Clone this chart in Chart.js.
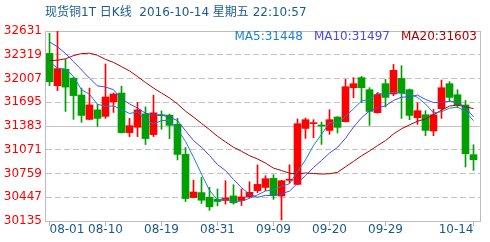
<!DOCTYPE html>
<html lang="zh-CN">
<head>
<meta charset="utf-8">
<script src="https://cdn.jsdelivr.net/npm/chart.js@4.4.1/dist/chart.umd.min.js"></script>
<style>
  body { margin: 0; background: #fff; }
  #box { width: 490px; height: 242px; }
</style>
</head>
<body>
<div id="box"><canvas id="kline" width="490" height="242"></canvas></div>
<script>
// 交易日
const dates = [
  '08-01','08-02','08-03','08-04','08-05','08-08','08-09','08-10','08-11','08-12',
  '08-15','08-16','08-17','08-18','08-19','08-22','08-23','08-24','08-25','08-26',
  '08-30','08-31','09-01','09-02','09-05','09-06','09-07','09-08','09-09','09-12',
  '09-13','09-14','09-15','09-16','09-19','09-20','09-21','09-22','09-23','09-26',
  '09-27','09-28','09-29','09-30','10-03','10-04','10-05','10-06','10-07','10-10',
  '10-11','10-12','10-13','10-14'
];
const opens = [
  32336, 31912, 32128, 32011, 31790, 31470, 31595, 31509, 31699, 31816,
  31296, 31366, 31543, 31270, 31525, 31526, 31405, 31010, 30443, 30508,
  30447, 30421, 30404, 30464, 30404, 30451, 30534, 30576, 30695, 30463,
  30670, 30616, 31351, 31414, 31390, 31325, 31501, 31440, 31886, 32018,
  31860, 31558, 31939, 31803, 32008, 31860, 31492, 31531, 31317, 31610,
  31939, 31794, 31659, 31006
];
const highs = [
  32601, 32627, 32258, 32024, 31881, 31881, 31669, 32198, 31816, 31907,
  31483, 31691, 31634, 31790, 31582, 31539, 31483, 31101, 30672, 30707,
  30577, 30555, 30664, 30612, 30555, 30651, 30872, 30730, 30743, 30670,
  30874, 31475, 31488, 31466, 31436, 31597, 31505, 31995, 32018, 32035,
  31886, 31821, 31995, 32192, 32175, 31870, 31689, 31584, 31601, 31987,
  31965, 31860, 31719, 31137
];
const lows = [
  31912, 31847, 31574, 31470, 31431, 31465, 31379, 31483, 31561, 31290,
  31244, 31244, 31140, 31244, 31340, 31218, 30937, 30391, 30440, 30365,
  30274, 30334, 30356, 30356, 30339, 30438, 30508, 30533, 30419, 30148,
  30634, 30610, 31220, 31229, 31141, 31273, 31291, 31435, 31755, 31689,
  31391, 31550, 31633, 31781, 31483, 31466, 31404, 31256, 31256, 31483,
  31698, 31623, 30844, 30800
];
const closes = [
  31964, 32137, 31894, 31782, 31522, 31660, 31483, 31764, 31803, 31296,
  31387, 31595, 31218, 31556, 31518, 31392, 31010, 30430, 30516, 30408,
  30321, 30391, 30438, 30373, 30451, 30512, 30616, 30691, 30471, 30664,
  30676, 31413, 31466, 31420, 31383, 31466, 31365, 31899, 31939, 31886,
  31575, 31798, 31759, 32114, 31817, 31522, 31584, 31325, 31531, 31886,
  31759, 31659, 31019, 30940
];
const ma5 = [
  32228, 32141, 32133, 32033, 31860, 31799, 31668, 31642, 31646, 31601,
  31547, 31569, 31460, 31410, 31455, 31456, 31339, 31181, 30973, 30751,
  30537, 30413, 30415, 30386, 30395, 30433, 30478, 30529, 30548, 30591,
  30624, 30783, 30938, 31128, 31272, 31430, 31420, 31507, 31610, 31711,
  31733, 31819, 31791, 31826, 31813, 31802, 31759, 31672, 31556, 31570,
  31617, 31632, 31571, 31453
];
const ma10 = [
  32488, 32423, 32336, 32228, 32120, 32011, 31910, 31895, 31860, 31740,
  31673, 31619, 31551, 31528, 31528, 31501, 31454, 31321, 31192, 31103,
  30996, 30876, 30798, 30680, 30573, 30485, 30446, 30472, 30467, 30493,
  30528, 30631, 30733, 30838, 30931, 31027, 31102, 31222, 31369, 31491,
  31581, 31620, 31649, 31718, 31762, 31767, 31789, 31732, 31691, 31691,
  31710, 31696, 31622, 31504
];
const ma20 = [
  32241, 32248, 32266, 32308, 32334, 32340, 32312, 32258, 32219, 32163,
  32107, 32033, 31955, 31881, 31816, 31751, 31673, 31578, 31500, 31417,
  31335, 31247, 31175, 31104, 31051, 30993, 30950, 30896, 30830, 30798,
  30762, 30753, 30766, 30759, 30752, 30756, 30774, 30847, 30918, 30992,
  31055, 31125, 31191, 31278, 31347, 31397, 31445, 31477, 31530, 31591,
  31645, 31658, 31635, 31611
];
const yTicks = [30135, 30447, 30759, 31071, 31383, 31695, 32007, 32319, 32631];
const xTickDates = ['08-01', '08-10', '08-19', '08-31', '09-09', '09-20', '09-29', '10-14'];
const titleText = '现货铜1T 日K线  2016-10-14 星期五 22:10:57';
const maText = ['MA5:31448', 'MA10:31497', 'MA20:31603'];

const FONT = '"DejaVu Sans", "Noto Sans CJK SC", sans-serif';
const UP = '#ff0000', DOWN = '#00a000';
const maColors = ['#1a82d2', '#4848f0', '#b00000'];

const candleColors = opens.map((o, i) => closes[i] >= o ? UP : DOWN);
const xTickIdx = xTickDates.map(d => dates.indexOf(d));

// 边框、标题和均线文字
const decor = {
  id: 'decor',
  beforeDatasetsDraw(chart) {
    const { ctx, chartArea: a } = chart;
    ctx.save();
    ctx.strokeStyle = '#bcbcbc';
    ctx.lineWidth = 1;
    ctx.strokeRect(a.left - 0.5, a.top + 0.5, a.right - a.left + 1, a.bottom - a.top);
    ctx.restore();
  },
  afterDraw(chart) {
    const { ctx, chartArea: a } = chart;
    ctx.save();
    ctx.font = '12px ' + FONT;
    ctx.textBaseline = 'middle';
    ctx.fillStyle = '#1a5a8c';
    ctx.textAlign = 'left';
    ctx.fillText(titleText, a.left - 1, 13);

    ctx.textAlign = 'right';
    let x = a.right - 3;
    for (let i = maText.length - 1; i >= 0; i--) {
      ctx.fillStyle = maColors[i];
      ctx.fillText(maText[i], x, 37);
      x -= ctx.measureText(maText[i]).width + 11;
    }
    ctx.restore();
  }
};

const lineSet = (label, arr, color) => ({
  type: 'line',
  label: label,
  data: arr.map((v, i) => ({ x: i, y: v })),
  borderColor: color,
  borderWidth: 1,
  pointRadius: 0,
  tension: 0,
  order: 0
});

new Chart(document.getElementById('kline'), {
  type: 'bar',
  data: {
    datasets: [
      lineSet('MA5', ma5, maColors[0]),
      lineSet('MA10', ma10, maColors[1]),
      lineSet('MA20', ma20, maColors[2]),
      {
        label: 'body',
        data: opens.map((o, i) => ({ x: i, y: [o, closes[i]] })),
        backgroundColor: candleColors,
        barThickness: 7,
        minBarLength: 1,
        grouped: false,
        order: 1
      },
      {
        label: 'wick',
        data: lows.map((l, i) => ({ x: i, y: [l, highs[i]] })),
        backgroundColor: candleColors,
        barThickness: 1,
        grouped: false,
        order: 2
      }
    ]
  },
  options: {
    responsive: false,
    animation: false,
    layout: { padding: { top: 31, right: 10, left: 0, bottom: 0 } },
    plugins: {
      legend: { display: false },
      tooltip: { enabled: false }
    },
    scales: {
      x: {
        type: 'linear',
        min: -0.4375,
        max: 53.8125,
        offset: false,
        afterBuildTicks: s => { s.ticks = xTickIdx.map(v => ({ value: v })); },
        afterFit: s => { s.height = 21; },
        ticks: {
          autoSkip: false,
          maxRotation: 0,
          align: 'inner',
          padding: -3,
          color: '#1a5a8c',
          font: { family: FONT, size: 12 },
          callback: v => dates[v]
        },
        grid: {
          drawOnChartArea: false,
          drawTicks: true,
          tickLength: 5,
          tickColor: '#b4b4b4',
          offset: false
        },
        border: { display: false }
      },
      y: {
        min: 30135,
        max: 32631,
        afterBuildTicks: s => { s.ticks = yTicks.map(v => ({ value: v })); },
        afterFit: s => { s.width = 46; },
        ticks: {
          color: '#ff0000',
          padding: 4,
          font: { family: FONT, size: 12 },
          callback: v => String(v)
        },
        grid: {
          drawTicks: false,
          lineWidth: 1,
          color: c => (c.tick && (c.tick.value === 30135 || c.tick.value === 32631)) ? 'rgba(0,0,0,0)' : '#c4c4c4'
        },
        border: {
          display: false,
          dash: c => (c.tick && c.tick.value === 31383) ? [] : [6, 3]
        }
      }
    }
  },
  plugins: [decor]
});
</script>
</body>
</html>
